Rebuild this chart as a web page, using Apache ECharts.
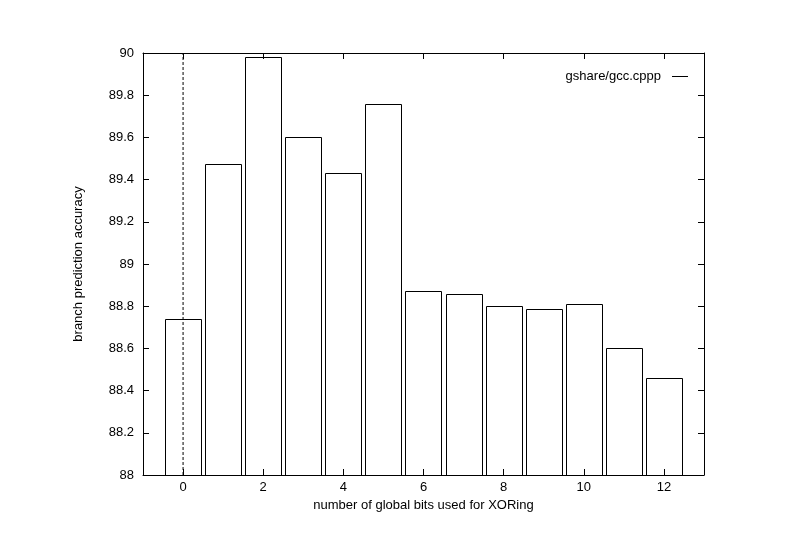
<!DOCTYPE html>
<html>
<head>
<meta charset="utf-8">
<script src="https://cdn.jsdelivr.net/npm/echarts@6/dist/echarts.min.js"></script>
<style>
html,body{margin:0;padding:0;background:#fff;}
#c{width:792px;height:554px;}
</style>
</head>
<body>
<div id="c"></div>
<script>
const bits = [0,1,2,3,4,5,6,7,8,9,10,11,12];
const accuracy = [88.74,89.475,89.98,89.60,89.43,89.76,88.87,88.857,88.80,88.785,88.81,88.60,88.46];
const xTicks = [0,2,4,6,8,10,12];
const yTicks = [88,88.2,88.4,88.6,88.8,89,89.2,89.4,89.6,89.8,90];
const yTickLabels = ['88','88.2','88.4','88.6','88.8','89','89.2','89.4','89.6','89.8','90'];
const seriesName = 'gshare/gcc.cppp';
const xName = 'number of global bits used for XORing';
const yName = 'branch prediction accuracy';
const boxWidth = 0.9;

const font = 'Liberation Sans';
const fs = 13;
const chart = echarts.init(document.getElementById('c'), null, {renderer:'canvas'});
const axisLine = {show:true, onZero:false, lineStyle:{color:'#000', width:1}};
const tickStyle = {show:true, inside:true, length:6, lineStyle:{color:'#000', width:1}};

const xBase = {type:'value', min:-1, max:13, splitLine:{show:false}, axisLine:axisLine};
const yBase = {type:'value', min:88, max:90, splitLine:{show:false}, axisLine:axisLine};

chart.setOption({
  animation:false,
  backgroundColor:'#fff',
  textStyle:{fontFamily:font},
  grid:{left:143, right:88, top:53, bottom:79, containLabel:false},
  legend:{
    right:99, top:65, align:'right', itemWidth:16, itemHeight:1, itemGap:0,
    textStyle:{fontFamily:font, fontSize:fs, color:'#000', padding:[0,6,0,0]},
    data:[{name:seriesName, icon:'rect', itemStyle:{color:'#000', borderWidth:0}}],
    selectedMode:false
  },
  xAxis:[
    Object.assign({}, xBase, {
      position:'bottom',
      name:xName, nameLocation:'middle', nameGap:20,
      nameTextStyle:{fontFamily:font, fontSize:fs, color:'#000'},
      axisTick:Object.assign({customValues:xTicks}, tickStyle),
      axisLabel:{customValues:xTicks, margin:6, color:'#000', fontFamily:font, fontSize:fs}
    }),
    Object.assign({}, xBase, {
      position:'top',
      axisTick:Object.assign({customValues:xTicks}, tickStyle),
      axisLabel:{show:false}
    })
  ],
  yAxis:[
    Object.assign({}, yBase, {
      position:'left',
      name:yName, nameLocation:'middle', nameGap:58,
      nameTextStyle:{fontFamily:font, fontSize:fs, color:'#000'},
      axisTick:Object.assign({customValues:yTicks}, tickStyle),
      axisLabel:{customValues:yTicks, margin:9, color:'#000', fontFamily:font, fontSize:fs,
        formatter:function(v){ const i = yTicks.findIndex(t=>Math.abs(t-v)<1e-6); return i>=0?yTickLabels[i]:''; }}
    }),
    Object.assign({}, yBase, {
      position:'right',
      axisTick:Object.assign({customValues:yTicks}, tickStyle),
      axisLabel:{show:false}
    })
  ],
  series:[
    {
      type:'line', xAxisIndex:0, yAxisIndex:0, silent:true, symbol:'none',
      data:[[0,88],[0,90]],
      lineStyle:{color:'#000', width:1, type:[3,2]}
    },
    {
      name:seriesName,
      type:'custom', xAxisIndex:0, yAxisIndex:0,
      data:bits.map((b,i)=>[b, accuracy[i]]),
      renderItem:function(params, api){
        const x = api.value(0), y = api.value(1);
        const p1 = api.coord([x-boxWidth/2, y]);
        const p2 = api.coord([x+boxWidth/2, 88]);
        return {
          type:'rect',
          shape:{x:Math.round(p1[0])+0.5, y:Math.round(p1[1])+0.5, width:Math.round(p2[0]-p1[0]), height:Math.round(p2[1]-p1[1])},
          style:{fill:'none', stroke:'#000', lineWidth:1}
        };
      }
    }
  ]
});
</script>
</body>
</html>
